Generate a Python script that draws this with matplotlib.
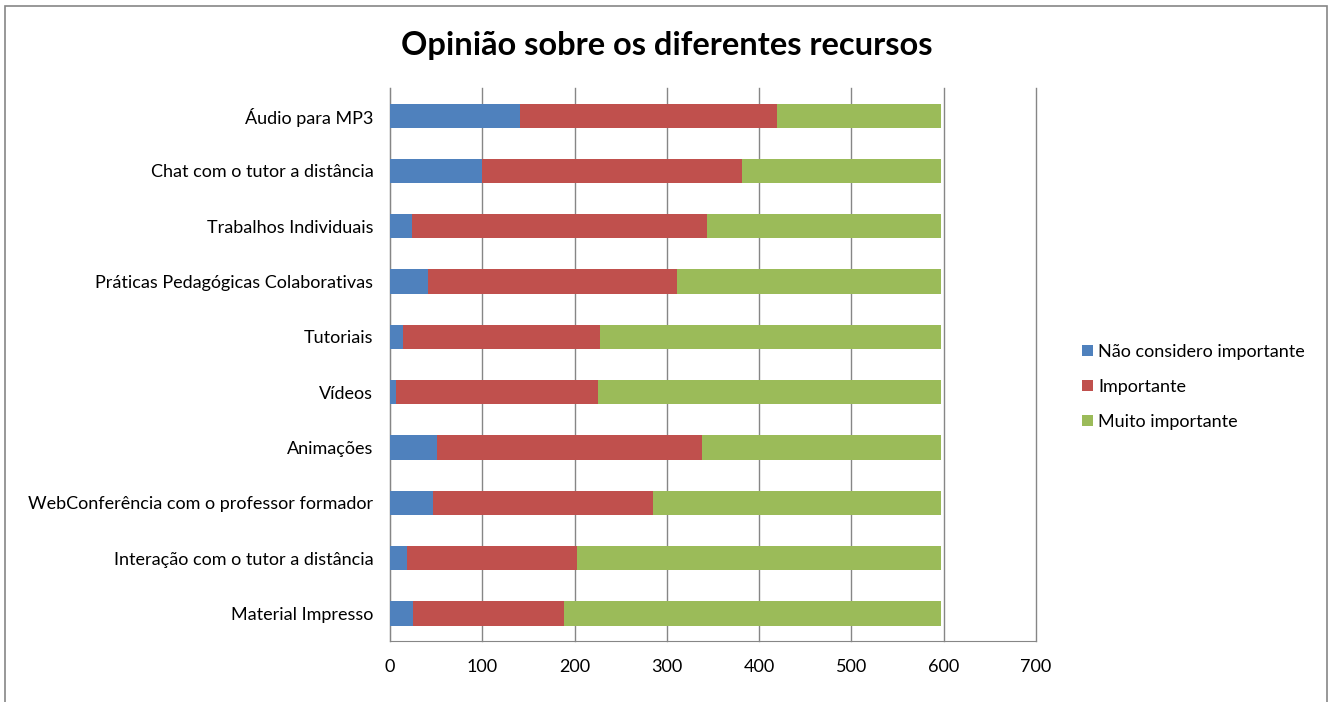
import numpy as np
import matplotlib.pyplot as plt
from matplotlib.patches import Rectangle

plt.rcParams['font.family'] = ['Lato', 'DejaVu Sans']

# resources, listed bottom to top
recursos = ['Material Impresso',
            'Interação com o tutor a distância',
            'WebConferência com o professor formador',
            'Animações',
            'Vídeos',
            'Tutoriais',
            'Práticas Pedagógicas Colaborativas',
            'Trabalhos Individuais',
            'Chat com o tutor a distância',
            'Áudio para MP3']
nao_importante = [25, 18, 47, 51, 6, 14, 41, 24, 100, 141]
importante = [164, 185, 238, 287, 219, 214, 270, 319, 281, 278]
muito_importante = [408, 394, 312, 259, 372, 369, 286, 254, 216, 178]

series = ['Não considero importante', 'Importante', 'Muito importante']
cores = ['#4f81bd', '#c0504d', '#9bbb59']

fig = plt.figure(figsize=(13.32, 7.02), dpi=100)
ax = fig.add_axes([0.2928, 0.0869, 0.4850, 0.7877])

y = np.arange(len(recursos))
left = np.zeros(len(recursos))
for vals, nome, cor in zip([nao_importante, importante, muito_importante], series, cores):
    ax.barh(y, vals, left=left, height=0.44, color=cor, label=nome, zorder=3)
    left += np.array(vals)

ax.set_xlim(0, 700)
ax.set_ylim(-0.5, len(recursos) - 0.5)
ax.set_xticks(range(0, 701, 100))
ax.set_yticks(y)
ax.set_yticklabels(recursos)
ax.grid(axis='x', color='#868686', linewidth=1, zorder=0)
for g in ax.get_xgridlines():
    g.set_clip_on(False)
ax.tick_params(axis='both', length=0, labelsize=13, colors='#000000')
ax.tick_params(axis='x', pad=13)
ax.tick_params(axis='y', pad=12)
for s in ['top', 'right']:
    ax.spines[s].set_visible(False)
for s in ['left', 'bottom']:
    ax.spines[s].set_color('#868686')

fig.text(0.5007, 0.935, 'Opinião sobre os diferentes recursos', ha='center', va='center',
         fontsize=23.5, fontweight='bold')

leg = fig.legend(loc='center left', bbox_to_anchor=(0.8, 0.449), frameon=False,
                 fontsize=13, handlelength=0.6, handleheight=0.6, handletextpad=0.3,
                 labelspacing=1.05)

# outer chart border (open at the bottom)
fig.add_artist(Rectangle((0.00375, -0.02), 0.9925, 1.0115, transform=fig.transFigure,
                         fill=False, edgecolor='#868686', linewidth=1.2))

fig.savefig('out.png', dpi=100)
